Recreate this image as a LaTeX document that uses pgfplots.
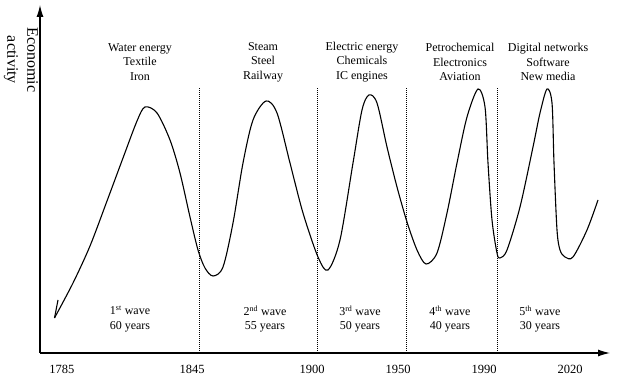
\documentclass[border=0pt]{standalone}
\usepackage{pgfplots}
\pgfplotsset{compat=1.18}
\usepackage{fontspec}
\setmainfont{Liberation Serif}
\usetikzlibrary{arrows.meta}
\begin{document}
\begin{tikzpicture}
\begin{axis}[
  scale only axis, width=570pt, height=348pt,
  xmin=40, xmax=610, ymin=34, ymax=382,
  axis lines=left,
  axis line style={line width=1.1pt, -{Latex[length=12pt,width=7pt]}},
  xtick={62,192,312,398,484,570},
  xticklabels={1785,1845,1900,1950,1990,2020},
  ytick=\empty,
  major tick length=0pt,
  /pgf/number format/assume math mode=true,
  xticklabel style={font=\fontsize{12.5}{15}\selectfont, yshift=-9pt},
  clip=false,
]
\path (axis cs:0,0) rectangle (axis cs:640,387);
% dotted wave boundaries
\addplot[black, densely dotted, line width=1pt] coordinates {(199,34) (199,300)};
\addplot[black, densely dotted, line width=1pt] coordinates {(317,34) (317,300)};
\addplot[black, densely dotted, line width=1pt] coordinates {(406,34) (406,300)};
\addplot[black, densely dotted, line width=1pt] coordinates {(497,34) (497,300)};
% long waves
\addplot[black, line width=1.1pt] coordinates {(58,87) (54.5,69)};
\addplot[black, line width=1.1pt, smooth, tension=0.5] coordinates {
(54.5,69) (73,104) (90,141) (107,186) (123,229) (137,266) (145,280) (157,274) (170,247) (180,214) (190,170) (198,137) (205,119) (213,111) (223,120) (233,164) (243,224) (253,267) (266,286) (277,274) (290,224) (303,174) (318,130) (328,117) (340,147) (353,224) (362,277) (369,292) (377,284) (387,240) (397,200) (407,165) (417,137) (426,123) (437,134) (447,174) (457,224) (467,270) (478,298) (485,280) (488,224) (492,167) (497,134) (500,129) (507,137) (520,180) (533,240) (540,274) (547,298) (552,284) (554,224) (557,157) (560,137) (565,130) (573,130) (587,157) (598,187)};
% labels
\tikzset{lbl/.style={align=center, font=\fontsize{12}{14.5}\selectfont, inner sep=0pt}}
\node[lbl] at (axis cs:140,325) {Water energy\\Textile\\Iron};
\node[lbl] at (axis cs:263,325) {Steam\\Steel\\Railway};
\node[lbl] at (axis cs:362,325) {Electric energy\\Chemicals\\IC engines};
\node[lbl] at (axis cs:460,325) {Petrochemical\\Electronics\\Aviation};
\node[lbl] at (axis cs:548,325) {Digital networks\\Software\\New media};
\node[lbl] at (axis cs:130,68) {1\textsuperscript{st} wave\\60 years};
\node[lbl] at (axis cs:265,68) {2\textsuperscript{nd} wave\\55 years};
\node[lbl] at (axis cs:360,68) {3\textsuperscript{rd} wave\\50 years};
\node[lbl] at (axis cs:450,68) {4\textsuperscript{th} wave\\40 years};
\node[lbl] at (axis cs:540,68) {5\textsuperscript{th} wave\\30 years};
\node[lbl, rotate=-90, font=\fontsize{16}{20}\selectfont] at (axis cs:21,327) {Economic\\activity};
\end{axis}
\end{tikzpicture}
\end{document}
